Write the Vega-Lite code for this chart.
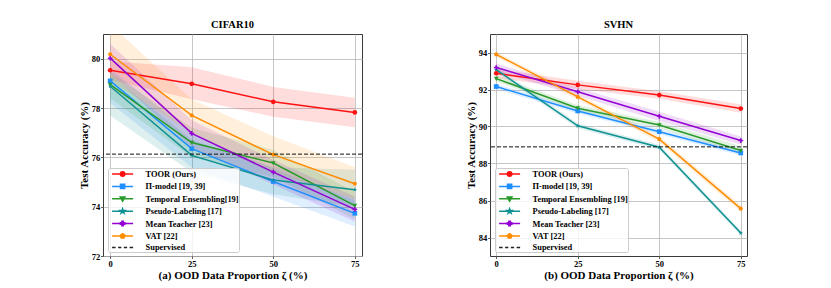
{
  "$schema": "https://vega.github.io/schema/vega-lite/v6.json",
  "background": "white",
  "padding": {"left": 77, "top": 19, "right": 5, "bottom": 2},
  "spacing": 101,
  "config": {
    "font": "Liberation Serif",
    "view": {"stroke": "#3a3a3a", "strokeWidth": 1},
    "axis": {
      "labelFont": "Liberation Serif", "labelFontWeight": "bold", "labelFontSize": 8.5, "labelColor": "black",
      "titleFont": "Liberation Serif", "titleFontWeight": "bold", "titleFontSize": 11, "titleColor": "black",
      "gridColor": "#b8b8b8", "gridWidth": 0.8, "domain": false, "tickColor": "#333", "tickSize": 2.5, "tickWidth": 0.8,
      "labelPadding": 0.8, "labelFlush": false
    },
    "title": {"font": "Liberation Serif", "fontWeight": "bold", "fontSize": 10.5, "color": "black", "offset": 4}
  },
  "resolve": {"scale": {"color": "independent", "shape": "independent", "stroke": "independent"}, "legend": {"color": "independent", "shape": "independent", "stroke": "independent"}},
  "hconcat": [
    {
      "width": 259, "height": 222,
      "title": "CIFAR10",
      "data": {"values": [
        {"series": "TOOR (Ours)", "x": 0, "y": 79.53, "lo": 79.15, "hi": 79.9},
        {"series": "TOOR (Ours)", "x": 25, "y": 78.98, "lo": 78.35, "hi": 79.65},
        {"series": "TOOR (Ours)", "x": 50, "y": 78.25, "lo": 77.65, "hi": 78.85},
        {"series": "TOOR (Ours)", "x": 75, "y": 77.82, "lo": 77.22, "hi": 78.42},
        {"series": "Π-model [19, 39]", "x": 0, "y": 79.1, "lo": 78.2, "hi": 79.6},
        {"series": "Π-model [19, 39]", "x": 25, "y": 76.35, "lo": 75.6, "hi": 76.95},
        {"series": "Π-model [19, 39]", "x": 50, "y": 75.02, "lo": 74.4, "hi": 75.55},
        {"series": "Π-model [19, 39]", "x": 75, "y": 73.73, "lo": 73.2, "hi": 74.25},
        {"series": "Temporal Ensembling[19]", "x": 0, "y": 78.95, "lo": 78.4, "hi": 79.45},
        {"series": "Temporal Ensembling[19]", "x": 25, "y": 76.6, "lo": 76.0, "hi": 77.2},
        {"series": "Temporal Ensembling[19]", "x": 50, "y": 75.77, "lo": 75.2, "hi": 76.3},
        {"series": "Temporal Ensembling[19]", "x": 75, "y": 74.04, "lo": 73.5, "hi": 74.6},
        {"series": "Pseudo-Labeling [17]", "x": 0, "y": 78.88, "lo": 77.7, "hi": 79.35},
        {"series": "Pseudo-Labeling [17]", "x": 25, "y": 76.08, "lo": 75.4, "hi": 76.7},
        {"series": "Pseudo-Labeling [17]", "x": 50, "y": 75.08, "lo": 74.5, "hi": 75.6},
        {"series": "Pseudo-Labeling [17]", "x": 75, "y": 74.69, "lo": 74.0, "hi": 75.5},
        {"series": "Mean Teacher [23]", "x": 0, "y": 80.02, "lo": 79.4, "hi": 80.6},
        {"series": "Mean Teacher [23]", "x": 25, "y": 76.97, "lo": 76.4, "hi": 77.5},
        {"series": "Mean Teacher [23]", "x": 50, "y": 75.4, "lo": 74.9, "hi": 75.9},
        {"series": "Mean Teacher [23]", "x": 75, "y": 73.89, "lo": 73.4, "hi": 74.4},
        {"series": "VAT [22]", "x": 0, "y": 80.18, "lo": 79.1, "hi": 81.4},
        {"series": "VAT [22]", "x": 25, "y": 77.7, "lo": 77.0, "hi": 78.35},
        {"series": "VAT [22]", "x": 50, "y": 76.11, "lo": 75.4, "hi": 76.85},
        {"series": "VAT [22]", "x": 75, "y": 74.93, "lo": 74.3, "hi": 75.6}
      ]},
      "layer": [
        {
          "mark": {"type": "area", "opacity": 0.14, "clip": true},
          "encoding": {
            "x": {"field": "x", "type": "quantitative", "scale": {"domain": [-2.2, 77.2], "nice": false, "zero": false},
                  "axis": {"values": [0, 25, 50, 75], "title": "(a) OOD Data Proportion ζ (%)", "titlePadding": 2}},
            "y": {"field": "lo", "type": "quantitative", "scale": {"domain": [72, 81], "nice": false, "zero": false},
                  "axis": {"values": [72, 74, 76, 78, 80], "title": "Test Accuracy (%)", "titlePadding": 2}},
            "y2": {"field": "hi"},
            "color": {"field": "series", "type": "nominal", "legend": null,
              "scale": {"domain": ["TOOR (Ours)", "Π-model [19, 39]", "Temporal Ensembling[19]", "Pseudo-Labeling [17]", "Mean Teacher [23]", "VAT [22]"],
                        "range": ["#ff1111", "#1f8fff", "#2a9a2a", "#0f9191", "#9400d3", "#ff8c00"]}}
          }
        },
        {
          "mark": {"type": "line", "strokeWidth": 1.5, "clip": true},
          "encoding": {
            "x": {"field": "x", "type": "quantitative"},
            "y": {"field": "y", "type": "quantitative"},
            "color": {"field": "series", "type": "nominal", "legend": null,
              "scale": {"domain": ["TOOR (Ours)", "Π-model [19, 39]", "Temporal Ensembling[19]", "Pseudo-Labeling [17]", "Mean Teacher [23]", "VAT [22]"],
                        "range": ["#ff1111", "#1f8fff", "#2a9a2a", "#0f9191", "#9400d3", "#ff8c00"]}}
          }
        },
        {
          "mark": {"type": "point", "filled": true, "opacity": 1, "size": 22, "clip": true},
          "encoding": {
            "x": {"field": "x", "type": "quantitative"},
            "y": {"field": "y", "type": "quantitative"},
            "color": {"field": "series", "type": "nominal", "legend": null,
              "scale": {"domain": ["TOOR (Ours)", "Π-model [19, 39]", "Temporal Ensembling[19]", "Pseudo-Labeling [17]", "Mean Teacher [23]", "VAT [22]"],
                        "range": ["#ff1111", "#1f8fff", "#2a9a2a", "#0f9191", "#9400d3", "#ff8c00"]}},
            "shape": {"field": "series", "type": "nominal", "legend": null,
              "scale": {"domain": ["TOOR (Ours)", "Π-model [19, 39]", "Temporal Ensembling[19]", "Pseudo-Labeling [17]", "Mean Teacher [23]", "VAT [22]"],
                        "range": ["circle", "square", "M-1,-0.8 L1,-0.8 L0,1 Z", "M0,-1 L0.235,-0.324 L0.951,-0.309 L0.38,0.124 L0.588,0.809 L0,0.4 L-0.588,0.809 L-0.38,0.124 L-0.951,-0.309 L-0.235,-0.324 Z", "M-0.33,-1 L0.33,-1 L0.33,-0.33 L1,-0.33 L1,0.33 L0.33,0.33 L0.33,1 L-0.33,1 L-0.33,0.33 L-1,0.33 L-1,-0.33 L-0.33,-0.33 Z", "M0,-1 L0.951,-0.309 L0.588,0.809 L-0.588,0.809 L-0.951,-0.309 Z"]}}
          }
        },
        {
          "data": {"values": [{"y": 76.13}]},
          "mark": {"type": "rule", "color": "#111", "strokeWidth": 1, "strokeDash": [4, 2]},
          "encoding": {"y": {"field": "y", "type": "quantitative"}}
        },
        {
          "transform": [{"filter": "datum.x > 1000"}],
          "mark": {"type": "point", "filled": true, "opacity": 1, "strokeWidth": 1.5},
          "encoding": {
            "x": {"field": "x", "type": "quantitative"},
            "y": {"field": "y", "type": "quantitative"},
            "color": {"field": "series", "type": "nominal",
              "scale": {"domain": ["TOOR (Ours)", "Π-model [19, 39]", "Temporal Ensembling[19]", "Pseudo-Labeling [17]", "Mean Teacher [23]", "VAT [22]", "Supervised"],
                        "range": ["#ff1111", "#1f8fff", "#2a9a2a", "#0f9191", "#9400d3", "#ff8c00", "#222222"]},
              "legend": {"orient": "bottom-left", "offset": 4.5, "title": null, "fillColor": "rgba(255,255,255,0.8)", "strokeColor": "#cccccc", "cornerRadius": 2, "padding": 0, "labelFont": "Liberation Serif", "labelFontWeight": "bold", "labelFontSize": 8.4, "labelColor": "black", "symbolSize": 100, "symbolStrokeWidth": 1.5, "symbolOffset": 8.6, "labelOffset": 17, "rowPadding": 0.4, "symbolOpacity": 1}},
            "stroke": {"field": "series", "type": "nominal",
              "scale": {"domain": ["TOOR (Ours)", "Π-model [19, 39]", "Temporal Ensembling[19]", "Pseudo-Labeling [17]", "Mean Teacher [23]", "VAT [22]", "Supervised"],
                        "range": ["#ff1111", "#1f8fff", "#2a9a2a", "#0f9191", "#9400d3", "#ff8c00", "#222222"]},
              "legend": {"orient": "bottom-left", "offset": 4.5, "title": null, "fillColor": "rgba(255,255,255,0.8)", "strokeColor": "#cccccc", "cornerRadius": 2, "padding": 0, "labelFont": "Liberation Serif", "labelFontWeight": "bold", "labelFontSize": 8.4, "labelColor": "black", "symbolSize": 100, "symbolStrokeWidth": 1.5, "symbolOffset": 8.6, "labelOffset": 17, "rowPadding": 0.4, "symbolOpacity": 1}},
            "shape": {"field": "series", "type": "nominal",
              "scale": {"domain": ["TOOR (Ours)", "Π-model [19, 39]", "Temporal Ensembling[19]", "Pseudo-Labeling [17]", "Mean Teacher [23]", "VAT [22]", "Supervised"],
                        "range": [
                          "M-2.1,0 L2.1,0 M0.45,0 A0.45,0.45 0 1,1 -0.45,0 A0.45,0.45 0 1,1 0.45,0 Z",
                          "M-2.1,0 L2.1,0 M-0.42,-0.42 L0.42,-0.42 L0.42,0.42 L-0.42,0.42 Z",
                          "M-2.1,0 L2.1,0 M-0.48,-0.38 L0.48,-0.38 L0,0.48 Z",
                          "M-2.1,0 L2.1,0 M0,-0.5 L0.118,-0.162 L0.476,-0.155 L0.19,0.062 L0.294,0.405 L0,0.2 L-0.294,0.405 L-0.19,0.062 L-0.476,-0.155 L-0.118,-0.162 Z",
                          "M-2.1,0 L2.1,0 M-0.15,-0.45 L0.15,-0.45 L0.15,-0.15 L0.45,-0.15 L0.45,0.15 L0.15,0.15 L0.15,0.45 L-0.15,0.45 L-0.15,0.15 L-0.45,0.15 L-0.45,-0.15 L-0.15,-0.15 Z",
                          "M-2.1,0 L2.1,0 M0,-0.47 L0.447,-0.145 L0.276,0.38 L-0.276,0.38 L-0.447,-0.145 Z",
                          "M-2.1,0 L-1.4,0 M-0.9,0 L-0.25,0 M0.25,0 L0.9,0 M1.4,0 L2.1,0"
                        ]},
              "legend": {"orient": "bottom-left", "offset": 4.5, "title": null, "fillColor": "rgba(255,255,255,0.8)", "strokeColor": "#cccccc", "cornerRadius": 2, "padding": 0, "labelFont": "Liberation Serif", "labelFontWeight": "bold", "labelFontSize": 8.4, "labelColor": "black", "symbolSize": 100, "symbolStrokeWidth": 1.5, "symbolOffset": 8.6, "labelOffset": 17, "rowPadding": 0.4, "symbolOpacity": 1}}
          }
        }
      ],
      "resolve": {"scale": {"color": "independent", "shape": "independent", "stroke": "independent"}}
    },
    {
      "width": 257, "height": 222,
      "title": "SVHN",
      "data": {"values": [
        {"series": "TOOR (Ours)", "x": 0, "y": 92.88, "lo": 92.62, "hi": 93.12},
        {"series": "TOOR (Ours)", "x": 25, "y": 92.25, "lo": 92.03, "hi": 92.47},
        {"series": "TOOR (Ours)", "x": 50, "y": 91.7, "lo": 91.5, "hi": 91.9},
        {"series": "TOOR (Ours)", "x": 75, "y": 90.97, "lo": 90.75, "hi": 91.2},
        {"series": "Π-model [19, 39]", "x": 0, "y": 92.16, "lo": 92.02, "hi": 92.3},
        {"series": "Π-model [19, 39]", "x": 25, "y": 90.84, "lo": 90.7, "hi": 90.98},
        {"series": "Π-model [19, 39]", "x": 50, "y": 89.72, "lo": 89.58, "hi": 89.86},
        {"series": "Π-model [19, 39]", "x": 75, "y": 88.57, "lo": 88.43, "hi": 88.71},
        {"series": "Temporal Ensembling [19]", "x": 0, "y": 92.59, "lo": 92.43, "hi": 92.75},
        {"series": "Temporal Ensembling [19]", "x": 25, "y": 90.99, "lo": 90.82, "hi": 91.16},
        {"series": "Temporal Ensembling [19]", "x": 50, "y": 90.08, "lo": 89.9, "hi": 90.26},
        {"series": "Temporal Ensembling [19]", "x": 75, "y": 88.7, "lo": 88.5, "hi": 88.95},
        {"series": "Pseudo-Labeling [17]", "x": 0, "y": 93.07, "lo": 92.93, "hi": 93.21},
        {"series": "Pseudo-Labeling [17]", "x": 25, "y": 90.04, "lo": 89.9, "hi": 90.18},
        {"series": "Pseudo-Labeling [17]", "x": 50, "y": 88.88, "lo": 88.74, "hi": 89.02},
        {"series": "Pseudo-Labeling [17]", "x": 75, "y": 84.24, "lo": 84.1, "hi": 84.38},
        {"series": "Mean Teacher [23]", "x": 0, "y": 93.19, "lo": 92.97, "hi": 93.41},
        {"series": "Mean Teacher [23]", "x": 25, "y": 91.88, "lo": 91.66, "hi": 92.1},
        {"series": "Mean Teacher [23]", "x": 50, "y": 90.55, "lo": 90.3, "hi": 90.8},
        {"series": "Mean Teacher [23]", "x": 75, "y": 89.24, "lo": 89.02, "hi": 89.46},
        {"series": "VAT [22]", "x": 0, "y": 93.9, "lo": 93.76, "hi": 94.04},
        {"series": "VAT [22]", "x": 25, "y": 91.6, "lo": 91.45, "hi": 91.75},
        {"series": "VAT [22]", "x": 50, "y": 89.32, "lo": 89.15, "hi": 89.49},
        {"series": "VAT [22]", "x": 75, "y": 85.56, "lo": 85.38, "hi": 85.74}
      ]},
      "layer": [
        {
          "mark": {"type": "area", "opacity": 0.14, "clip": true},
          "encoding": {
            "x": {"field": "x", "type": "quantitative", "scale": {"domain": [-1.9, 76.9], "nice": false, "zero": false},
                  "axis": {"values": [0, 25, 50, 75], "title": "(b) OOD Data Proportion ζ (%)", "titlePadding": 2}},
            "y": {"field": "lo", "type": "quantitative", "scale": {"domain": [83, 95], "nice": false, "zero": false},
                  "axis": {"values": [84, 86, 88, 90, 92, 94], "title": "Test Accuracy (%)", "titlePadding": 2}},
            "y2": {"field": "hi"},
            "color": {"field": "series", "type": "nominal", "legend": null,
              "scale": {"domain": ["TOOR (Ours)", "Π-model [19, 39]", "Temporal Ensembling [19]", "Pseudo-Labeling [17]", "Mean Teacher [23]", "VAT [22]"],
                        "range": ["#ff1111", "#1f8fff", "#2a9a2a", "#0f9191", "#9400d3", "#ff8c00"]}}
          }
        },
        {
          "mark": {"type": "line", "strokeWidth": 1.5, "clip": true},
          "encoding": {
            "x": {"field": "x", "type": "quantitative"},
            "y": {"field": "y", "type": "quantitative"},
            "color": {"field": "series", "type": "nominal", "legend": null,
              "scale": {"domain": ["TOOR (Ours)", "Π-model [19, 39]", "Temporal Ensembling [19]", "Pseudo-Labeling [17]", "Mean Teacher [23]", "VAT [22]"],
                        "range": ["#ff1111", "#1f8fff", "#2a9a2a", "#0f9191", "#9400d3", "#ff8c00"]}}
          }
        },
        {
          "mark": {"type": "point", "filled": true, "opacity": 1, "size": 22, "clip": true},
          "encoding": {
            "x": {"field": "x", "type": "quantitative"},
            "y": {"field": "y", "type": "quantitative"},
            "color": {"field": "series", "type": "nominal", "legend": null,
              "scale": {"domain": ["TOOR (Ours)", "Π-model [19, 39]", "Temporal Ensembling [19]", "Pseudo-Labeling [17]", "Mean Teacher [23]", "VAT [22]"],
                        "range": ["#ff1111", "#1f8fff", "#2a9a2a", "#0f9191", "#9400d3", "#ff8c00"]}},
            "shape": {"field": "series", "type": "nominal", "legend": null,
              "scale": {"domain": ["TOOR (Ours)", "Π-model [19, 39]", "Temporal Ensembling [19]", "Pseudo-Labeling [17]", "Mean Teacher [23]", "VAT [22]"],
                        "range": ["circle", "square", "M-1,-0.8 L1,-0.8 L0,1 Z", "M0,-1 L0.235,-0.324 L0.951,-0.309 L0.38,0.124 L0.588,0.809 L0,0.4 L-0.588,0.809 L-0.38,0.124 L-0.951,-0.309 L-0.235,-0.324 Z", "M-0.33,-1 L0.33,-1 L0.33,-0.33 L1,-0.33 L1,0.33 L0.33,0.33 L0.33,1 L-0.33,1 L-0.33,0.33 L-1,0.33 L-1,-0.33 L-0.33,-0.33 Z", "M0,-1 L0.951,-0.309 L0.588,0.809 L-0.588,0.809 L-0.951,-0.309 Z"]}}
          }
        },
        {
          "data": {"values": [{"y": 88.9}]},
          "mark": {"type": "rule", "color": "#111", "strokeWidth": 1, "strokeDash": [4, 2]},
          "encoding": {"y": {"field": "y", "type": "quantitative"}}
        },
        {
          "transform": [{"filter": "datum.x > 1000"}],
          "mark": {"type": "point", "filled": true, "opacity": 1, "strokeWidth": 1.5},
          "encoding": {
            "x": {"field": "x", "type": "quantitative"},
            "y": {"field": "y", "type": "quantitative"},
            "color": {"field": "series", "type": "nominal",
              "scale": {"domain": ["TOOR (Ours)", "Π-model [19, 39]", "Temporal Ensembling [19]", "Pseudo-Labeling [17]", "Mean Teacher [23]", "VAT [22]", "Supervised"],
                        "range": ["#ff1111", "#1f8fff", "#2a9a2a", "#0f9191", "#9400d3", "#ff8c00", "#222222"]},
              "legend": {"orient": "bottom-left", "offset": 4.5, "title": null, "fillColor": "rgba(255,255,255,0.8)", "strokeColor": "#cccccc", "cornerRadius": 2, "padding": 0, "labelFont": "Liberation Serif", "labelFontWeight": "bold", "labelFontSize": 8.4, "labelColor": "black", "symbolSize": 100, "symbolStrokeWidth": 1.5, "symbolOffset": 8.6, "labelOffset": 17, "rowPadding": 0.4, "symbolOpacity": 1}},
            "stroke": {"field": "series", "type": "nominal",
              "scale": {"domain": ["TOOR (Ours)", "Π-model [19, 39]", "Temporal Ensembling [19]", "Pseudo-Labeling [17]", "Mean Teacher [23]", "VAT [22]", "Supervised"],
                        "range": ["#ff1111", "#1f8fff", "#2a9a2a", "#0f9191", "#9400d3", "#ff8c00", "#222222"]},
              "legend": {"orient": "bottom-left", "offset": 4.5, "title": null, "fillColor": "rgba(255,255,255,0.8)", "strokeColor": "#cccccc", "cornerRadius": 2, "padding": 0, "labelFont": "Liberation Serif", "labelFontWeight": "bold", "labelFontSize": 8.4, "labelColor": "black", "symbolSize": 100, "symbolStrokeWidth": 1.5, "symbolOffset": 8.6, "labelOffset": 17, "rowPadding": 0.4, "symbolOpacity": 1}},
            "shape": {"field": "series", "type": "nominal",
              "scale": {"domain": ["TOOR (Ours)", "Π-model [19, 39]", "Temporal Ensembling [19]", "Pseudo-Labeling [17]", "Mean Teacher [23]", "VAT [22]", "Supervised"],
                        "range": [
                          "M-2.1,0 L2.1,0 M0.45,0 A0.45,0.45 0 1,1 -0.45,0 A0.45,0.45 0 1,1 0.45,0 Z",
                          "M-2.1,0 L2.1,0 M-0.42,-0.42 L0.42,-0.42 L0.42,0.42 L-0.42,0.42 Z",
                          "M-2.1,0 L2.1,0 M-0.48,-0.38 L0.48,-0.38 L0,0.48 Z",
                          "M-2.1,0 L2.1,0 M0,-0.5 L0.118,-0.162 L0.476,-0.155 L0.19,0.062 L0.294,0.405 L0,0.2 L-0.294,0.405 L-0.19,0.062 L-0.476,-0.155 L-0.118,-0.162 Z",
                          "M-2.1,0 L2.1,0 M-0.15,-0.45 L0.15,-0.45 L0.15,-0.15 L0.45,-0.15 L0.45,0.15 L0.15,0.15 L0.15,0.45 L-0.15,0.45 L-0.15,0.15 L-0.45,0.15 L-0.45,-0.15 L-0.15,-0.15 Z",
                          "M-2.1,0 L2.1,0 M0,-0.47 L0.447,-0.145 L0.276,0.38 L-0.276,0.38 L-0.447,-0.145 Z",
                          "M-2.1,0 L-1.4,0 M-0.9,0 L-0.25,0 M0.25,0 L0.9,0 M1.4,0 L2.1,0"
                        ]},
              "legend": {"orient": "bottom-left", "offset": 4.5, "title": null, "fillColor": "rgba(255,255,255,0.8)", "strokeColor": "#cccccc", "cornerRadius": 2, "padding": 0, "labelFont": "Liberation Serif", "labelFontWeight": "bold", "labelFontSize": 8.4, "labelColor": "black", "symbolSize": 100, "symbolStrokeWidth": 1.5, "symbolOffset": 8.6, "labelOffset": 17, "rowPadding": 0.4, "symbolOpacity": 1}}
          }
        }
      ],
      "resolve": {"scale": {"color": "independent", "shape": "independent", "stroke": "independent"}}
    }
  ]
}
